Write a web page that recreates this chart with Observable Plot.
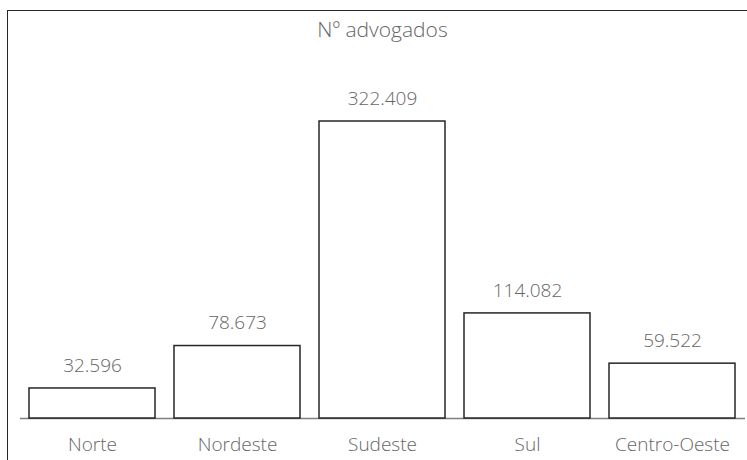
<!DOCTYPE html>
<html>
<head>
<meta charset="utf-8">
<script src="https://cdn.jsdelivr.net/npm/d3@7"></script>
<script src="https://cdn.jsdelivr.net/npm/@observablehq/plot@0.6"></script>
<style>
  html, body { margin: 0; padding: 0; background: #fff; }
  #wrap { position: relative; width: 747px; height: 460px; overflow: hidden; }
  #frame { position: absolute; left: 7px; top: 10px; width: 800px; height: 500px;
           border-left: 1.5px solid #262626; border-top: 1.5px solid #262626; pointer-events: none; }
  #title { position: absolute; left: 20px; width: 725px; top: 15px; text-align: center;
           font-family: "Open Sans", sans-serif; font-weight: 300; font-size: 21px; color: #666; }
  #chart { position: absolute; left: 0; top: 0; }
  #chart text { font-weight: 300; }
</style>
</head>
<body>
<div id="wrap">
  <div id="chart"></div>
  <div id="frame"></div>
  <div id="title">Nº advogados</div>
</div>
<script>
const regions = ["Norte", "Nordeste", "Sudeste", "Sul", "Centro-Oeste"];
const lawyers = [32596, 78673, 322409, 114082, 59522];

const data = regions.map((r, i) => ({region: r, value: lawyers[i]}));
const fmt = v => d3.format(",")(v).replace(/,/g, ".");

const chart = Plot.plot({
  width: 747,
  height: 460,
  marginLeft: 20,
  marginRight: 2,
  marginTop: 95,
  marginBottom: 42,
  style: {fontFamily: "Open Sans, sans-serif", fontSize: "19px", color: "#666", background: "transparent"},
  x: {domain: regions, range: [20, 745], paddingInner: 0.13, paddingOuter: 0.065, label: null},
  y: {domain: [0, 350000], range: [418, 95.6], axis: null},
  marks: [
    Plot.ruleY([0], {stroke: "#7f7f7f", strokeWidth: 1.5}),
    Plot.barY(data, {x: "region", y: "value", fill: "white", stroke: "#262626", strokeWidth: 1.5}),
    Plot.text(data, {x: "region", y: "value", text: d => fmt(d.value), dy: -23, fill: "#666", fontSize: 19}),
    Plot.axisX({tickSize: 0, tickPadding: 19, fontSize: 19, fill: "#666", label: null})
  ]
});
document.getElementById("chart").appendChild(chart);
</script>
</body>
</html>
